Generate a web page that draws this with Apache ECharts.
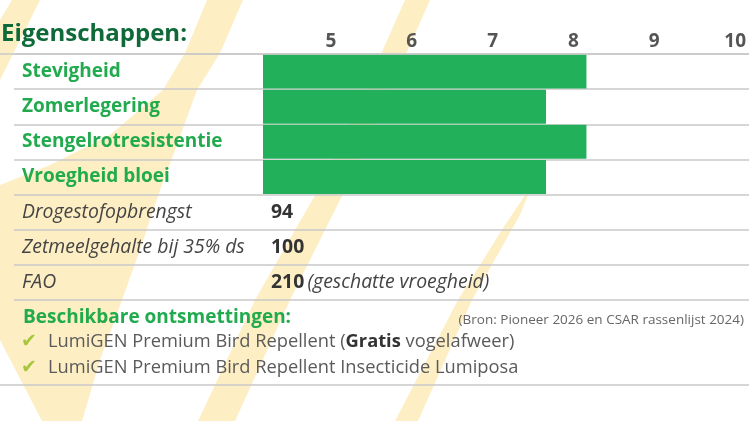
<!DOCTYPE html>
<html><head><meta charset="utf-8">
<script src="https://cdn.jsdelivr.net/npm/echarts@6/dist/echarts.min.js"></script>
<style>html,body{margin:0;padding:0;background:#fff}#c{width:749px;height:421px}</style>
</head><body><div id="c"></div>
<script>
// ---- data ----
const heading = 'Eigenschappen:';
const barCategories = ['Stevigheid', 'Zomerlegering', 'Stengelrotresistentie', 'Vroegheid bloei'];
const barValues = [8, 7.5, 8, 7.5];
const infoCategories = ['Drogestofopbrengst', 'Zetmeelgehalte bij 35% ds', 'FAO'];
const infoValues = [94, 100, 210];
const infoNotes = ['', '', '(geschatte vroegheid)'];
const tickLabels = [5, 6, 7, 8, 9, 10];
const axisMin = 4, axisMax = 10;
const treatmentsTitle = 'Beschikbare ontsmettingen:';
const sourceNote = '(Bron: Pioneer 2026 en CSAR rassenlijst 2024)';
const treatments = ['LumiGEN Premium Bird Repellent ({b|Gratis} vogelafweer)', 'LumiGEN Premium Bird Repellent Insecticide Lumiposa'];

// ---- styling ----
const FONT = '"Open Sans", "Noto Sans", sans-serif';
const GREEN = '#23b05a';
const LABEL_GREEN = '#22ab4e';
const DARK_GREEN = '#0e6a38';
const STRIPE = '#fdeec4';
const LINE = '#c9c9c9';

const rows = barCategories.concat(infoCategories);

const stripes = [
  [[12,0],[40,0],[0,80],[0,20]],
  [[207,0],[243,0],[220,53],[197,90],[175,150],[160,190],[140,250],[122,300],[100,360],[82,421],[42,421],[0,340],[0,185],[50,165],[110,135],[163,90],[185,53]],
  [[405,0],[430,0],[390,90],[345,190],[290,300],[235,421],[198,421],[255,300],[318,190],[365,90]],
  [[532,185],[520,215],[472,300],[418,421],[395,421],[458,300],[505,225]]
];

const chart = echarts.init(document.getElementById('c'), null, {renderer: 'canvas'});

const graphics = stripes.map(p => ({type: 'polygon', z: -10, silent: true, shape: {points: p}, style: {fill: STRIPE}}));
graphics.push(
  {type: 'line', z: 5, shape: {x1: 0, y1: 54, x2: 749, y2: 54}, style: {stroke: LINE, lineWidth: 1.5}},
  {type: 'line', z: 5, shape: {x1: 0, y1: 385, x2: 749, y2: 385}, style: {stroke: LINE, lineWidth: 1.5}},
  {type: 'text', z: 5, style: {text: heading, x: 1, y: 34, textVerticalAlign: 'middle', font: 'bold 24px ' + FONT, fill: DARK_GREEN}},
  {type: 'text', z: 5, style: {text: treatmentsTitle, x: 23, y: 318, textVerticalAlign: 'middle', font: 'bold 19px ' + FONT, fill: LABEL_GREEN}},
  {type: 'text', z: 5, style: {text: sourceNote, x: 744, y: 320, textAlign: 'right', textVerticalAlign: 'middle', font: '13.5px ' + FONT, fill: '#666'}}
);
treatments.forEach((t, i) => {
  const y = 342 + i * 26;
  graphics.push(
    {type: 'text', z: 5, style: {text: '\u2714', x: 21, y: y, textVerticalAlign: 'middle', font: '19px "DejaVu Sans"', fill: '#a5c73a'}},
    {type: 'text', z: 5, style: {text: t, x: 48, y: y, textVerticalAlign: 'middle', font: '18.3px ' + FONT, fill: '#5a5a5a',
      rich: {b: {fontWeight: 'bold', fill: '#333', fontSize: 18.3, fontFamily: FONT}}}}
  );
});

chart.setOption({
  animation: false,
  backgroundColor: '#fff',
  grid: [
    {left: 14, right: 0, top: 54, height: 246},
    {left: 263, right: 0, top: 54, height: 246}
  ],
  xAxis: [
    {type: 'value', gridIndex: 0, show: false},
    {type: 'value', gridIndex: 1, position: 'top', min: axisMin, max: axisMax, interval: 1,
      axisLine: {show: false}, axisTick: {show: false}, splitLine: {show: false},
      axisLabel: {margin: 3, color: '#555', fontFamily: FONT, fontWeight: 'bold', fontSize: 19,
        padding: [0, 26, 0, 0],
        formatter: v => tickLabels.includes(v) ? String(v) : ''}}
  ],
  yAxis: [
    {type: 'category', gridIndex: 0, data: rows, inverse: true,
      axisLine: {show: false}, axisTick: {show: false},
      splitLine: {show: true, lineStyle: {color: LINE, width: 1.5}},
      axisLabel: {inside: true, margin: 8,
        formatter: (v, i) => i < barCategories.length ? '{g|' + v + '}' : '{i|' + v + '}',
        rich: {
          g: {fontFamily: FONT, fontWeight: 'bold', fontSize: 19, color: LABEL_GREEN},
          i: {fontFamily: FONT, fontStyle: 'italic', fontSize: 19.4, color: '#444'}
        }}},
    {type: 'category', gridIndex: 1, data: rows, inverse: true,
      axisLine: {show: false}, axisTick: {show: false}, splitLine: {show: false},
      axisLabel: {inside: true, margin: 8,
        formatter: (v, i) => {
          const k = i - barCategories.length;
          if (k < 0) return '';
          return '{b|' + infoValues[k] + '}' + (infoNotes[k] ? ' {n|' + infoNotes[k] + '}' : '');
        },
        rich: {
          b: {fontFamily: FONT, fontWeight: 'bold', fontSize: 19.4, color: '#333'},
          n: {fontFamily: FONT, fontStyle: 'italic', fontSize: 19.4, color: '#444'}
        }}}
  ],
  series: [{
    type: 'bar', xAxisIndex: 1, yAxisIndex: 1, silent: true,
    data: barValues.concat(infoCategories.map(() => null)),
    barWidth: 34, itemStyle: {color: GREEN}, z: 2
  }],
  graphic: graphics
});
</script></body></html>
